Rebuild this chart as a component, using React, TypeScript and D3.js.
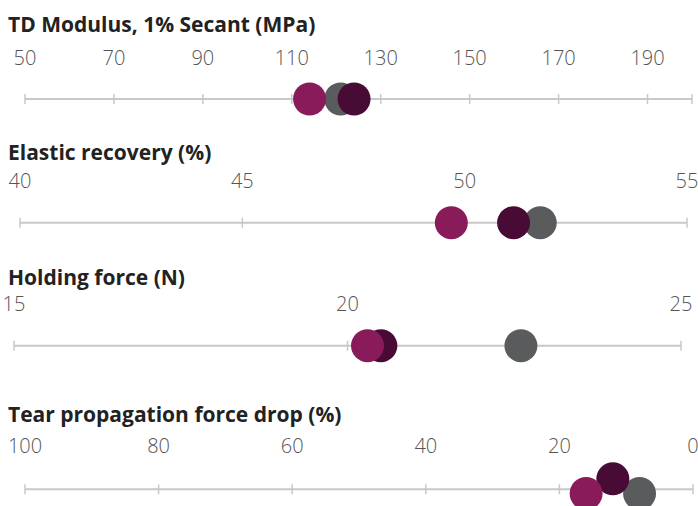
import React from "react";
import * as d3 from "d3";

const panelTitles = [
  "TD Modulus, 1% Secant (MPa)",
  "Elastic recovery (%)",
  "Holding force (N)",
  "Tear propagation force drop (%)",
];
const domainStart = [50, 40, 15, 100];
const domainEnd = [200, 55, 25, 0];
const tickLabels = [
  [50, 70, 90, 110, 130, 150, 170, 190],
  [40, 45, 50, 55],
  [15, 20, 25],
  [100, 80, 60, 40, 20, 0],
];
const seriesNames = ["Product C", "Product B", "Product A"];
const seriesColors = ["#5a5b5d", "#470b36", "#8a1b5b"];
const productC = [121, 51.7, 22.6, 8];
const productB = [124, 51.1, 20.5, 12];
const productA = [114, 49.7, 20.3, 16];
// vertical lane used to separate crowded dots (beeswarm-like)
const laneC = [0, 0, 0, 0.3];
const laneB = [0, 0, 0, -0.75];
const laneA = [0, 0, 0, 0.3];

const W = 698;
const H = 506;
const layout = [
  { titleY: 31.5, labelY: 65, lineY: 99, x0: 25, x1: 692 },
  { titleY: 160, labelY: 188, lineY: 222.7, x0: 20, x1: 687 },
  { titleY: 285, labelY: 310.7, lineY: 345.7, x0: 14, x1: 681 },
  { titleY: 421.7, labelY: 453.3, lineY: 489.3, x0: 25, x1: 693 },
];
const R = 16.5;

export default function App() {
  const series = [
    { name: seriesNames[0], color: seriesColors[0], values: productC, lanes: laneC },
    { name: seriesNames[1], color: seriesColors[1], values: productB, lanes: laneB },
    { name: seriesNames[2], color: seriesColors[2], values: productA, lanes: laneA },
  ];
  const laneScale = d3.scaleLinear().domain([-1, 1]).range([-14, 14]);
  return (
    <div style={{ position: "absolute", left: 0, top: 0 }}>
      <svg width={W} height={H} style={{ display: "block", background: "#fff" }}>
        {panelTitles.map((title, i) => {
          const L = layout[i];
          const x = d3.scaleLinear().domain([domainStart[i], domainEnd[i]]).range([L.x0, L.x1]);
          const tickMarks = Array.from(new Set([...tickLabels[i], domainStart[i], domainEnd[i]]));
          return (
            <g key={i}>
              <text
                x={8}
                y={L.titleY}
                fontFamily="'Open Sans', sans-serif"
                fontWeight={700}
                fontSize={21}
                fill="#222"
              >
                {title}
              </text>
              {tickLabels[i].map((t) => (
                <text
                  key={"l" + t}
                  x={x(t)}
                  y={L.labelY}
                  textAnchor="middle"
                  fontFamily="'Open Sans', sans-serif"
                  fontWeight={300}
                  fontSize={20}
                  fill="#555"
                >
                  {t}
                </text>
              ))}
              <line x1={L.x0} x2={L.x1} y1={L.lineY} y2={L.lineY} stroke="#c8c8c8" strokeWidth={2} />
              {tickMarks.map((t) => (
                <line
                  key={"t" + t}
                  x1={x(t)}
                  x2={x(t)}
                  y1={L.lineY - 5}
                  y2={L.lineY + 5}
                  stroke="#c8c8c8"
                  strokeWidth={1.5}
                />
              ))}
              {series.map((s) => (
                <circle
                  key={s.name}
                  cx={x(s.values[i])}
                  cy={L.lineY + laneScale(s.lanes[i])}
                  r={R}
                  fill={s.color}
                />
              ))}
            </g>
          );
        })}
      </svg>
    </div>
  );
}
